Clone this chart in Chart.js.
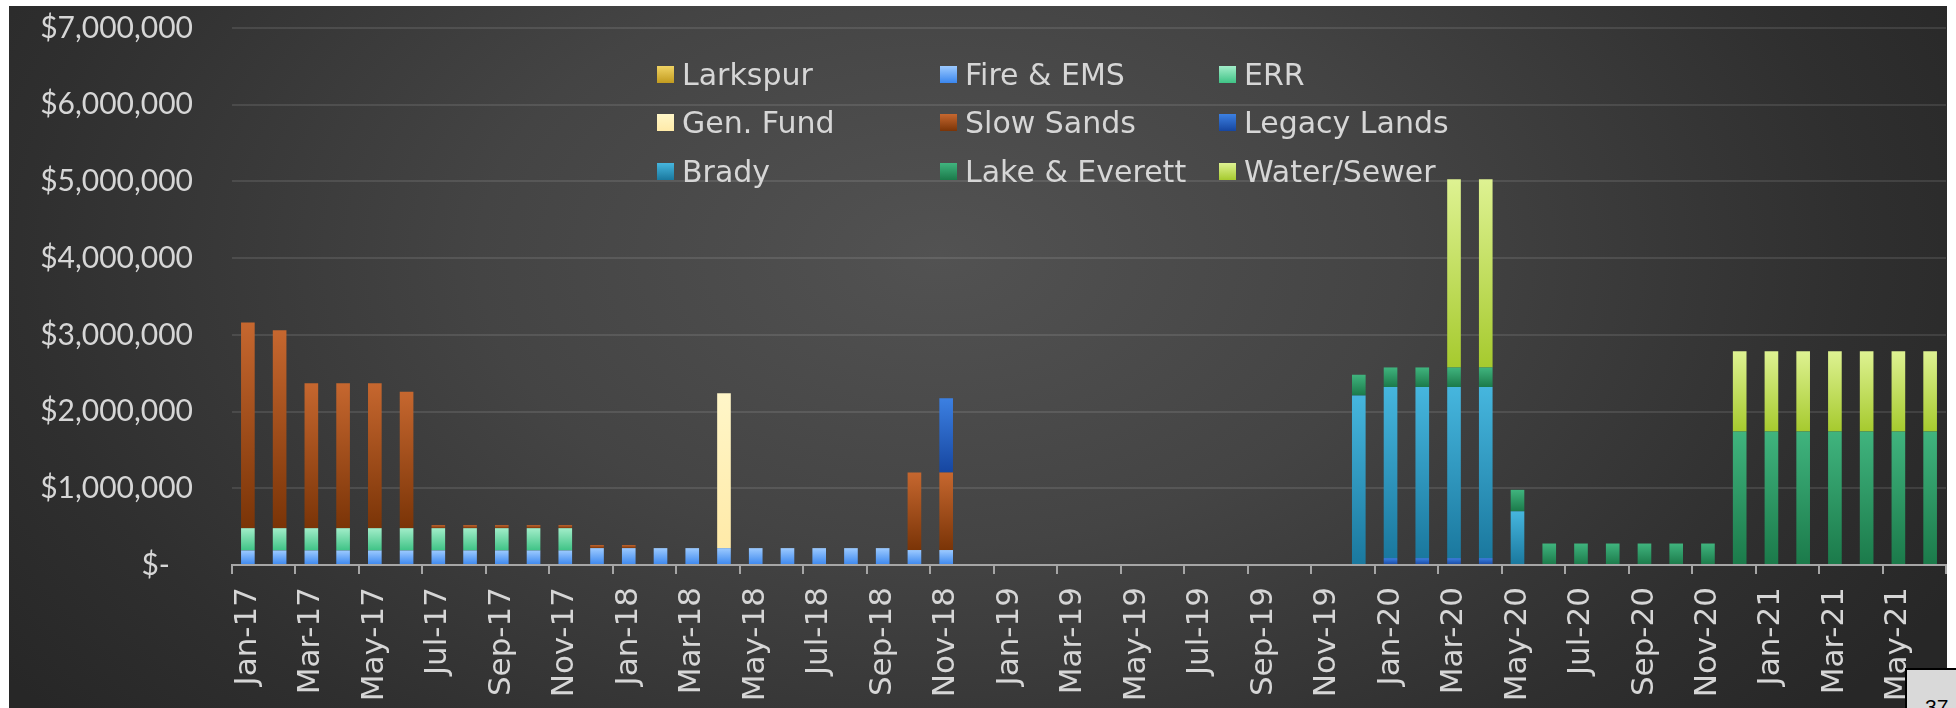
<!DOCTYPE html>
<html>
<head>
<meta charset="utf-8">
<title>Funding by Month</title>
<script src="https://cdn.jsdelivr.net/npm/chart.js@4"></script>
<style>
    html, body { margin: 0; padding: 0; background: #ffffff; }
    body { width: 1956px; height: 708px; position: relative; overflow: hidden; font-family: "DejaVu Sans", sans-serif; }
    #panel {
        position: absolute; left: 9px; top: 6px; width: 1938px; height: 702px;
        background: radial-gradient(ellipse 1150px 720px at 930px 250px, #525252 0%, #444444 40%, #2f2f2f 80%, #272727 100%);
    }
    #chart { position: absolute; left: 0; top: 0; }
    #legend {
        position: absolute; left: 657px; top: 50px;
        display: grid; grid-template-columns: 283px 279px 320px; grid-auto-rows: 48.5px;
    }
    .item { display: flex; align-items: center; color: #d6d6d6; font-size: 30px; white-space: nowrap; }
    .swatch { width: 17px; height: 17px; margin-right: 8px; }
    #page {
        position: absolute; left: 1905px; top: 668px; width: 70px; height: 60px;
        background: #d9d9d9; border: 2px solid #000; box-sizing: border-box;
        font-family: "Liberation Sans", Arial, sans-serif; font-size: 21px; color: #000;
    }
    #page span { position: absolute; left: 18px; top: 25px; }
</style>
</head>
<body>
<div id="panel"></div>
<canvas id="chart" width="1956" height="708"></canvas>
<div id="legend"></div>
<div id="page"><span>37</span></div>
<script>
// Months on the category axis
const months = [
    'Jan-17', 'Feb-17', 'Mar-17', 'Apr-17', 'May-17', 'Jun-17', 'Jul-17', 'Aug-17', 'Sep-17', 'Oct-17', 'Nov-17', 'Dec-17',
    'Jan-18', 'Feb-18', 'Mar-18', 'Apr-18', 'May-18', 'Jun-18', 'Jul-18', 'Aug-18', 'Sep-18', 'Oct-18', 'Nov-18', 'Dec-18',
    'Jan-19', 'Feb-19', 'Mar-19', 'Apr-19', 'May-19', 'Jun-19', 'Jul-19', 'Aug-19', 'Sep-19', 'Oct-19', 'Nov-19', 'Dec-19',
    'Jan-20', 'Feb-20', 'Mar-20', 'Apr-20', 'May-20', 'Jun-20', 'Jul-20', 'Aug-20', 'Sep-20', 'Oct-20', 'Nov-20', 'Dec-20',
    'Jan-21', 'Feb-21', 'Mar-21', 'Apr-21', 'May-21', 'Jun-21'
];

// Only every other month gets a label
const shownLabels = [
    'Jan-17', 'Mar-17', 'May-17', 'Jul-17', 'Sep-17', 'Nov-17',
    'Jan-18', 'Mar-18', 'May-18', 'Jul-18', 'Sep-18', 'Nov-18',
    'Jan-19', 'Mar-19', 'May-19', 'Jul-19', 'Sep-19', 'Nov-19',
    'Jan-20', 'Mar-20', 'May-20', 'Jul-20', 'Sep-20', 'Nov-20',
    'Jan-21', 'Mar-21', 'May-21'
];

const yTicks = [0, 1000000, 2000000, 3000000, 4000000, 5000000, 6000000, 7000000];

// Series values (dollars), one row per year
const larkspur = [
    0, 0, 0, 0, 0, 0, 0, 0, 0, 0, 0, 0,
    0, 0, 0, 0, 0, 0, 0, 0, 0, 0, 0, 0,
    0, 0, 0, 0, 0, 0, 0, 0, 0, 0, 0, 0,
    0, 0, 0, 0, 0, 0, 0, 0, 0, 0, 0, 0,
    0, 0, 0, 0, 0, 0
];
const fireEms = [
    190000, 190000, 190000, 190000, 190000, 190000, 190000, 190000, 190000, 190000, 190000, 220000,
    220000, 220000, 220000, 220000, 220000, 220000, 220000, 220000, 220000, 195000, 195000, 0,
    0, 0, 0, 0, 0, 0, 0, 0, 0, 0, 0, 0,
    0, 0, 0, 0, 0, 0, 0, 0, 0, 0, 0, 0,
    0, 0, 0, 0, 0, 0
];
const err = [
    290000, 290000, 290000, 290000, 290000, 290000, 290000, 290000, 290000, 290000, 290000, 0,
    0, 0, 0, 0, 0, 0, 0, 0, 0, 0, 0, 0,
    0, 0, 0, 0, 0, 0, 0, 0, 0, 0, 0, 0,
    0, 0, 0, 0, 0, 0, 0, 0, 0, 0, 0, 0,
    0, 0, 0, 0, 0, 0
];
const genFund = [
    0, 0, 0, 0, 0, 0, 0, 0, 0, 0, 0, 0,
    0, 0, 0, 2020000, 0, 0, 0, 0, 0, 0, 0, 0,
    0, 0, 0, 0, 0, 0, 0, 0, 0, 0, 0, 0,
    0, 0, 0, 0, 0, 0, 0, 0, 0, 0, 0, 0,
    0, 0, 0, 0, 0, 0
];
const slowSands = [
    2680000, 2580000, 1890000, 1890000, 1890000, 1780000, 40000, 40000, 40000, 40000, 40000, 40000,
    40000, 0, 0, 0, 0, 0, 0, 0, 0, 1010000, 1010000, 0,
    0, 0, 0, 0, 0, 0, 0, 0, 0, 0, 0, 0,
    0, 0, 0, 0, 0, 0, 0, 0, 0, 0, 0, 0,
    0, 0, 0, 0, 0, 0
];
const legacyLands = [
    0, 0, 0, 0, 0, 0, 0, 0, 0, 0, 0, 0,
    0, 0, 0, 0, 0, 0, 0, 0, 0, 0, 970000, 0,
    0, 0, 0, 0, 0, 0, 0, 0, 0, 0, 0, 0,
    90000, 90000, 90000, 90000, 0, 0, 0, 0, 0, 0, 0, 0,
    0, 0, 0, 0, 0, 0
];
const brady = [
    0, 0, 0, 0, 0, 0, 0, 0, 0, 0, 0, 0,
    0, 0, 0, 0, 0, 0, 0, 0, 0, 0, 0, 0,
    0, 0, 0, 0, 0, 0, 0, 0, 0, 0, 0, 2210000,
    2230000, 2230000, 2230000, 2230000, 700000, 0, 0, 0, 0, 0, 0, 0,
    0, 0, 0, 0, 0, 0
];
const lakeEverett = [
    0, 0, 0, 0, 0, 0, 0, 0, 0, 0, 0, 0,
    0, 0, 0, 0, 0, 0, 0, 0, 0, 0, 0, 0,
    0, 0, 0, 0, 0, 0, 0, 0, 0, 0, 0, 270000,
    255000, 255000, 255000, 255000, 280000, 280000, 280000, 280000, 280000, 280000, 280000, 1740000,
    1740000, 1740000, 1740000, 1740000, 1740000, 1740000
];
const waterSewer = [
    0, 0, 0, 0, 0, 0, 0, 0, 0, 0, 0, 0,
    0, 0, 0, 0, 0, 0, 0, 0, 0, 0, 0, 0,
    0, 0, 0, 0, 0, 0, 0, 0, 0, 0, 0, 0,
    0, 0, 2455000, 2455000, 0, 0, 0, 0, 0, 0, 0, 1045000,
    1045000, 1045000, 1045000, 1045000, 1045000, 1045000
];

const seriesNames = ['Larkspur', 'Fire & EMS', 'ERR', 'Gen. Fund', 'Slow Sands', 'Legacy Lands', 'Brady', 'Lake & Everett', 'Water/Sewer'];
const seriesValues = [larkspur, fireEms, err, genFund, slowSands, legacyLands, brady, lakeEverett, waterSewer];

// top / bottom shade of each series
const seriesColors = [
    ['#f0d364', '#c29b1f'],
    ['#9ccaff', '#3a86ee'],
    ['#a2edc9', '#3fc386'],
    ['#fff6c8', '#ffeaa8'],
    ['#c6672f', '#7a3407'],
    ['#3c80e2', '#1646a0'],
    ['#46b6de', '#1a789e'],
    ['#40b47e', '#1b7a4a'],
    ['#def292', '#a6ca2e']
];

const textColor = '#d6d6d6';
const axisColor = '#a6a6a6';

// vertical gradient over each stacked segment
function segmentFill(d) {
    const [topColor, bottomColor] = seriesColors[d];
    return function(ctx) {
        const chart = ctx.chart;
        const yScale = chart.scales.y;
        if (ctx.type !== 'data' || !yScale) return topColor;
        const i = ctx.dataIndex;
        let base = 0;
        for (let k = 0; k < d; k++) base += seriesValues[k][i] || 0;
        const top = base + (seriesValues[d][i] || 0);
        const y0 = yScale.getPixelForValue(top);
        const y1 = yScale.getPixelForValue(base);
        if (!isFinite(y0) || !isFinite(y1) || y1 - y0 < 1) return topColor;
        const g = chart.ctx.createLinearGradient(0, y0, 0, y1);
        g.addColorStop(0, topColor);
        g.addColorStop(1, bottomColor);
        return g;
    };
}

function buildLegend() {
    const legend = document.getElementById('legend');
    seriesNames.forEach((name, d) => {
        const item = document.createElement('div');
        item.className = 'item';
        const sw = document.createElement('span');
        sw.className = 'swatch';
        sw.style.background = 'linear-gradient(' + seriesColors[d][0] + ', ' + seriesColors[d][1] + ')';
        const label = document.createElement('span');
        label.textContent = name;
        item.appendChild(sw);
        item.appendChild(label);
        legend.appendChild(item);
    });
}

function initializeChart() {
    const ctx = document.getElementById('chart');
    new Chart(ctx, {
        type: 'bar',
        data: {
            labels: months,
            datasets: seriesNames.map((name, d) => ({
                label: name,
                data: seriesValues[d],
                backgroundColor: segmentFill(d),
                borderWidth: 0,
                categoryPercentage: 1,
                barPercentage: 0.43
            }))
        },
        options: {
            responsive: false,
            animation: false,
            devicePixelRatio: 1,
            layout: { padding: { top: 28, right: 10, left: 0, bottom: 0 } },
            plugins: {
                legend: { display: false },
                tooltip: { enabled: false }
            },
            scales: {
                x: {
                    stacked: true,
                    offset: true,
                    grid: {
                        offset: true,
                        drawOnChartArea: false,
                        tickLength: 9,
                        lineWidth: 2,
                        color: c => (c.index === undefined || c.index % 2 === 0) ? axisColor : 'rgba(0,0,0,0)'
                    },
                    border: { display: true, color: axisColor, width: 2 },
                    ticks: {
                        autoSkip: false,
                        minRotation: 90,
                        maxRotation: 90,
                        padding: 13,
                        color: textColor,
                        font: { family: 'DejaVu Sans', size: 31 },
                        callback: function(value, index) {
                            const label = months[index];
                            return shownLabels.includes(label) ? label : '';
                        }
                    },
                    afterFit: function(scale) {
                        scale.height = 143;
                        scale.paddingLeft = 0;
                        scale.paddingRight = 0;
                    }
                },
                y: {
                    stacked: true,
                    min: yTicks[0],
                    max: yTicks[yTicks.length - 1],
                    afterBuildTicks: function(scale) { scale.ticks = yTicks.map(v => ({ value: v })); },
                    grid: { color: 'rgba(255,255,255,0.10)', lineWidth: 2, drawTicks: false },
                    border: { display: false },
                    ticks: {
                        padding: 39,
                        color: textColor,
                        font: { family: 'Lato', size: 30 },
                        callback: function(value) {
                            return value === 0 ? '$-   ' : '$' + value.toLocaleString('en-US');
                        }
                    },
                    afterFit: function(scale) {
                        scale.width = 232;
                        scale.paddingTop = 0;
                        scale.paddingBottom = 0;
                    }
                }
            }
        }
    });
}

buildLegend();
document.fonts.load('30px Lato').then(initializeChart, initializeChart);
</script>
</body>
</html>
